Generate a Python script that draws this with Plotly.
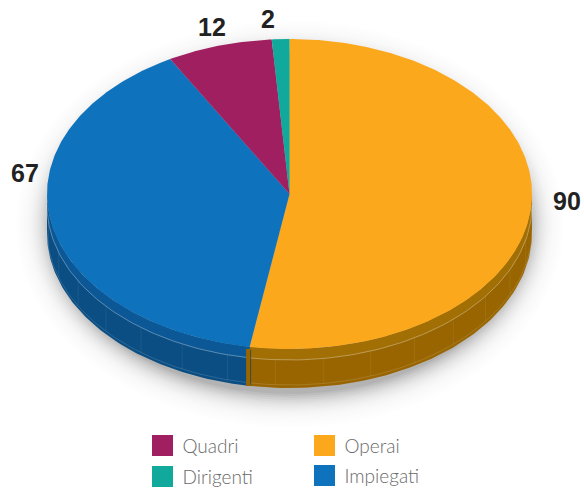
import numpy as np
import plotly.graph_objects as go

# ---- data ----
categories = ["Operai", "Impiegati", "Quadri", "Dirigenti"]
values = [90, 67, 12, 2]
top_colors = ["#FBA81C", "#0F72BC", "#A01F60", "#10A99C"]
side_colors = ["#986500", "#0A4E83", "#6E1542", "#0B7A70"]
rim_colors = ["#A26F04", "#0C5896", "#7E1A4C", "#0C8A80"]
legend_order = ["Quadri", "Dirigenti", "Operai", "Impiegati"]

# ---- geometry / style ----
W, H = 584, 489
CX, CY, RX, RY = 289.5, 194.0, 242.5, 155.0
DEPTH, RIM = 39.0, 11.0
label_pos = {"Operai": (567, 204), "Impiegati": (25, 176), "Quadri": (212, 30), "Dirigenti": (268, 22)}
legend_pos = {"Quadri": (162.5, 445.5), "Dirigenti": (162.5, 476.5), "Operai": (324.5, 445.5), "Impiegati": (324.5, 475.5)}

fig = go.Figure()


def ex(t):
    return CX + RX * np.sin(t)


def ey(t, off=0.0):
    return CY - RY * np.cos(t) + off


def poly(x, y, color):
    fig.add_trace(go.Scatter(x=x, y=y, mode="lines", fill="toself", fillcolor=color,
                             line=dict(width=0, color=color), hoverinfo="skip", showlegend=False))


def line(x, y, color, width=1):
    fig.add_trace(go.Scatter(x=x, y=y, mode="lines", line=dict(width=width, color=color),
                             hoverinfo="skip", showlegend=False))


# soft shadow: fades outward from beneath the pie
full = np.linspace(0, 2 * np.pi, 181)
for k in range(34, -1, -2):
    alpha = 0.002 + 0.05 * (1 - k / 34) ** 2.2
    poly(290 + (RX - 2 + k) * np.sin(full), 224 - (170 + k) * np.cos(full), f"rgba(0,0,0,{alpha:.4f})")

# slice angles
edges = np.concatenate([[0], np.cumsum(values)]) / np.sum(values) * 2 * np.pi

# side walls: only the front half of the ellipse is visible
for i, cat in enumerate(categories):
    a = max(edges[i], np.pi / 2)
    b = min(edges[i + 1], 3 * np.pi / 2)
    if b <= a:
        continue
    t = np.linspace(a, b, 80)
    poly(np.r_[ex(t), ex(t[::-1])], np.r_[ey(t), ey(t[::-1], DEPTH)], side_colors[i])
    poly(np.r_[ex(t), ex(t[::-1])], np.r_[ey(t), ey(t[::-1], RIM)], rim_colors[i])
    line(ex(t), ey(t, RIM), "rgba(255,255,255,0.33)", 1)
    line(ex(t), ey(t, DEPTH - 3), "rgba(255,255,255,0.14)", 1)
    # faint wall facets
    for f in np.arange(np.ceil(a / 0.2), b / 0.2) * 0.2:
        line([ex(f), ex(f)], [ey(f, RIM), ey(f, DEPTH - 3)], "rgba(255,255,255,0.07)", 1)

# seam between the two visible walls
seam = edges[1]
poly([ex(seam) - 3.5, ex(seam) + 1, ex(seam) + 1, ex(seam) - 3.5],
     [ey(seam, 2), ey(seam, 2), ey(seam, DEPTH), ey(seam, DEPTH)], side_colors[0])
line([ex(seam) + 1, ex(seam) + 1], [ey(seam, 3), ey(seam, DEPTH - 1)], "rgba(10,60,100,0.6)", 1)

# top face
for i, cat in enumerate(categories):
    t = np.linspace(edges[i], edges[i + 1], max(8, int(values[i] * 4)))
    poly(np.r_[CX, ex(t), CX], np.r_[CY, ey(t), CY], top_colors[i])

# value labels
fig.add_trace(go.Scatter(
    x=[label_pos[c][0] for c in categories], y=[label_pos[c][1] for c in categories],
    mode="text", text=[str(v) for v in values], textposition="middle center",
    textfont=dict(family="Liberation Sans", size=25, color="#222222", weight="bold"),
    hoverinfo="skip", showlegend=False))

# legend
for cat in legend_order:
    i = categories.index(cat)
    lx, ly = legend_pos[cat]
    fig.add_trace(go.Scatter(x=[lx], y=[ly], mode="markers",
                             marker=dict(symbol="square", size=21, color=top_colors[i]),
                             hoverinfo="skip", showlegend=False))
    fig.add_trace(go.Scatter(x=[lx + 20], y=[ly + 2.5], mode="text", text=[cat], textposition="middle right",
                             textfont=dict(family="Lato", size=19, color="#6A6A6A", weight=300),
                             hoverinfo="skip", showlegend=False))

fig.update_layout(
    width=W, height=H, margin=dict(l=0, r=0, t=0, b=0), autosize=False,
    paper_bgcolor="white", plot_bgcolor="white",
    xaxis=dict(range=[0, W], visible=False, fixedrange=True),
    yaxis=dict(range=[H, 0], visible=False, fixedrange=True),
)
fig.write_html("out.html", config=dict(displayModeBar=False),
               post_script="document.body.style.margin='0';document.body.style.overflow='hidden';")
